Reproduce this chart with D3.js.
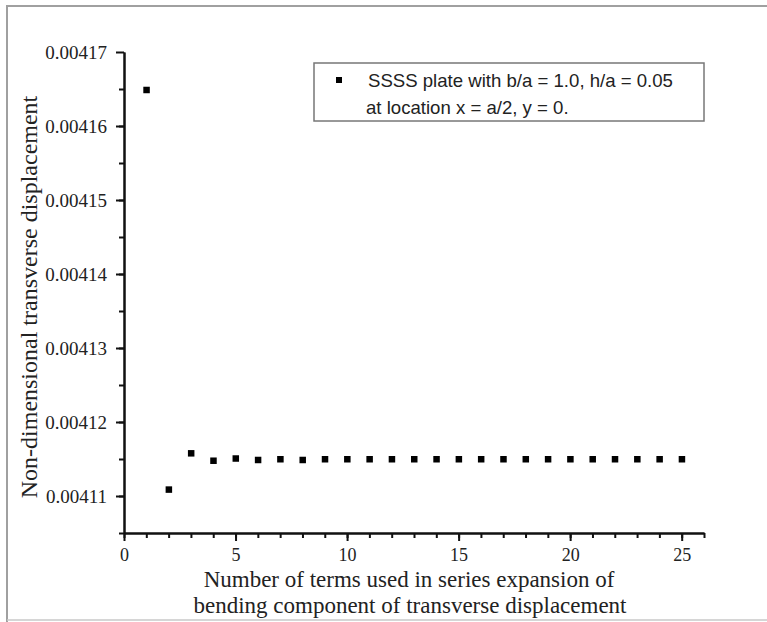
<!DOCTYPE html>
<html lang="en">
<head>
    <meta charset="UTF-8">
    <title>Convergence of transverse displacement</title>
    <script src="https://d3js.org/d3.v7.min.js"></script>
    <style>
        body { margin: 0; background: #fff; }
        svg { display: block; }
    </style>
</head>
<body>
    <svg width="767" height="622"></svg>
    <script>
        // data
        const terms = d3.range(1, 26);
        const displacement = [
            0.0041649, 0.0041109, 0.0041158, 0.0041148, 0.0041151,
            0.0041149, 0.0041150, 0.0041149, 0.0041150, 0.0041150,
            0.0041150, 0.0041150, 0.0041150, 0.0041150, 0.0041150,
            0.0041150, 0.0041150, 0.0041150, 0.0041150, 0.0041150,
            0.0041150, 0.0041150, 0.0041150, 0.0041150, 0.0041150
        ];
        const xTicks = [0, 5, 10, 15, 20, 25];
        const yTicks = [0.00411, 0.00412, 0.00413, 0.00414, 0.00415, 0.00416, 0.00417];
        const legendLines = ["SSSS plate with b/a = 1.0, h/a = 0.05", "at location x = a/2, y = 0."];

        const svg = d3.select("svg");
        const serif = "'Liberation Serif', 'Times New Roman', serif";
        const sans = "'Liberation Sans', Arial, sans-serif";

        // outer frame
        svg.append("path")
            .attr("d", "M7,622 V6 H767")
            .attr("fill", "none")
            .attr("stroke", "#a0a0a0")
            .attr("stroke-width", 2);
        svg.append("line")
            .attr("x1", 7).attr("x2", 767).attr("y1", 620).attr("y2", 620)
            .attr("stroke", "#c8c8c8").attr("stroke-width", 1.5);

        const margin = { left: 124, top: 52, right: 704, bottom: 533 };

        const x = d3.scaleLinear().domain([0, 26]).range([margin.left, margin.right]);
        const y = d3.scaleLinear().domain([0.004105, 0.00417]).range([margin.bottom, margin.top]);

        // x axis
        svg.append("g")
            .attr("transform", `translate(0,${margin.bottom})`)
            .call(d3.axisBottom(x).tickValues(d3.range(0, 27)).tickSize(5).tickFormat("").tickSizeOuter(0));
        const xAxis = svg.append("g")
            .attr("transform", `translate(0,${margin.bottom})`)
            .call(d3.axisBottom(x).tickValues(xTicks).tickSize(8).tickPadding(7).tickSizeOuter(0));
        xAxis.selectAll("text").attr("font-family", serif).attr("font-size", 18).attr("fill", "#222");

        // y axis
        svg.append("g")
            .attr("transform", `translate(${margin.left},0)`)
            .call(d3.axisLeft(y).tickValues(d3.range(13).map(i => 0.004105 + i * 0.000005)).tickSize(5).tickFormat("").tickSizeOuter(0));
        const yAxis = svg.append("g")
            .attr("transform", `translate(${margin.left},0)`)
            .call(d3.axisLeft(y).tickValues(yTicks).tickSize(8).tickPadding(9).tickFormat(d3.format(".5f")).tickSizeOuter(0));
        yAxis.selectAll("text").attr("font-family", serif).attr("font-size", 19).attr("fill", "#222");

        svg.selectAll(".domain, .tick line").attr("stroke", "#111").attr("stroke-width", 2);

        // points
        svg.append("g").selectAll("rect")
            .data(terms.map((t, i) => ({ t, v: displacement[i] })))
            .join("rect")
            .attr("x", d => x(d.t) - 3)
            .attr("y", d => y(d.v) - 3)
            .attr("width", 6.5)
            .attr("height", 6.5)
            .attr("fill", "#000");

        // axis labels
        svg.append("text")
            .attr("transform", "translate(37,297) rotate(-90)")
            .attr("text-anchor", "middle")
            .attr("font-family", serif)
            .attr("font-size", 24)
            .attr("fill", "#222")
            .text("Non-dimensional transverse displacement");

        svg.append("text")
            .attr("x", 409).attr("y", 587)
            .attr("text-anchor", "middle")
            .attr("font-family", serif)
            .attr("font-size", 23)
            .attr("fill", "#222")
            .text("Number of terms used in series expansion of");
        svg.append("text")
            .attr("x", 410).attr("y", 613)
            .attr("text-anchor", "middle")
            .attr("font-family", serif)
            .attr("font-size", 23)
            .attr("fill", "#222")
            .text("bending component of transverse displacement");

        // legend
        const legend = svg.append("g");
        legend.append("rect")
            .attr("x", 314).attr("y", 63)
            .attr("width", 390).attr("height", 58)
            .attr("fill", "#fff")
            .attr("stroke", "#777").attr("stroke-width", 1.5);
        legend.append("rect")
            .attr("x", 336).attr("y", 77).attr("width", 6).attr("height", 6)
            .attr("fill", "#000");
        legend.selectAll("text.lg")
            .data(legendLines)
            .join("text")
            .attr("class", "lg")
            .attr("x", (d, i) => i === 0 ? 368 : 366)
            .attr("y", (d, i) => 87 + i * 27)
            .attr("font-family", sans)
            .attr("font-size", 18.6)
            .attr("fill", "#222")
            .text(d => d);
    </script>
</body>
</html>
